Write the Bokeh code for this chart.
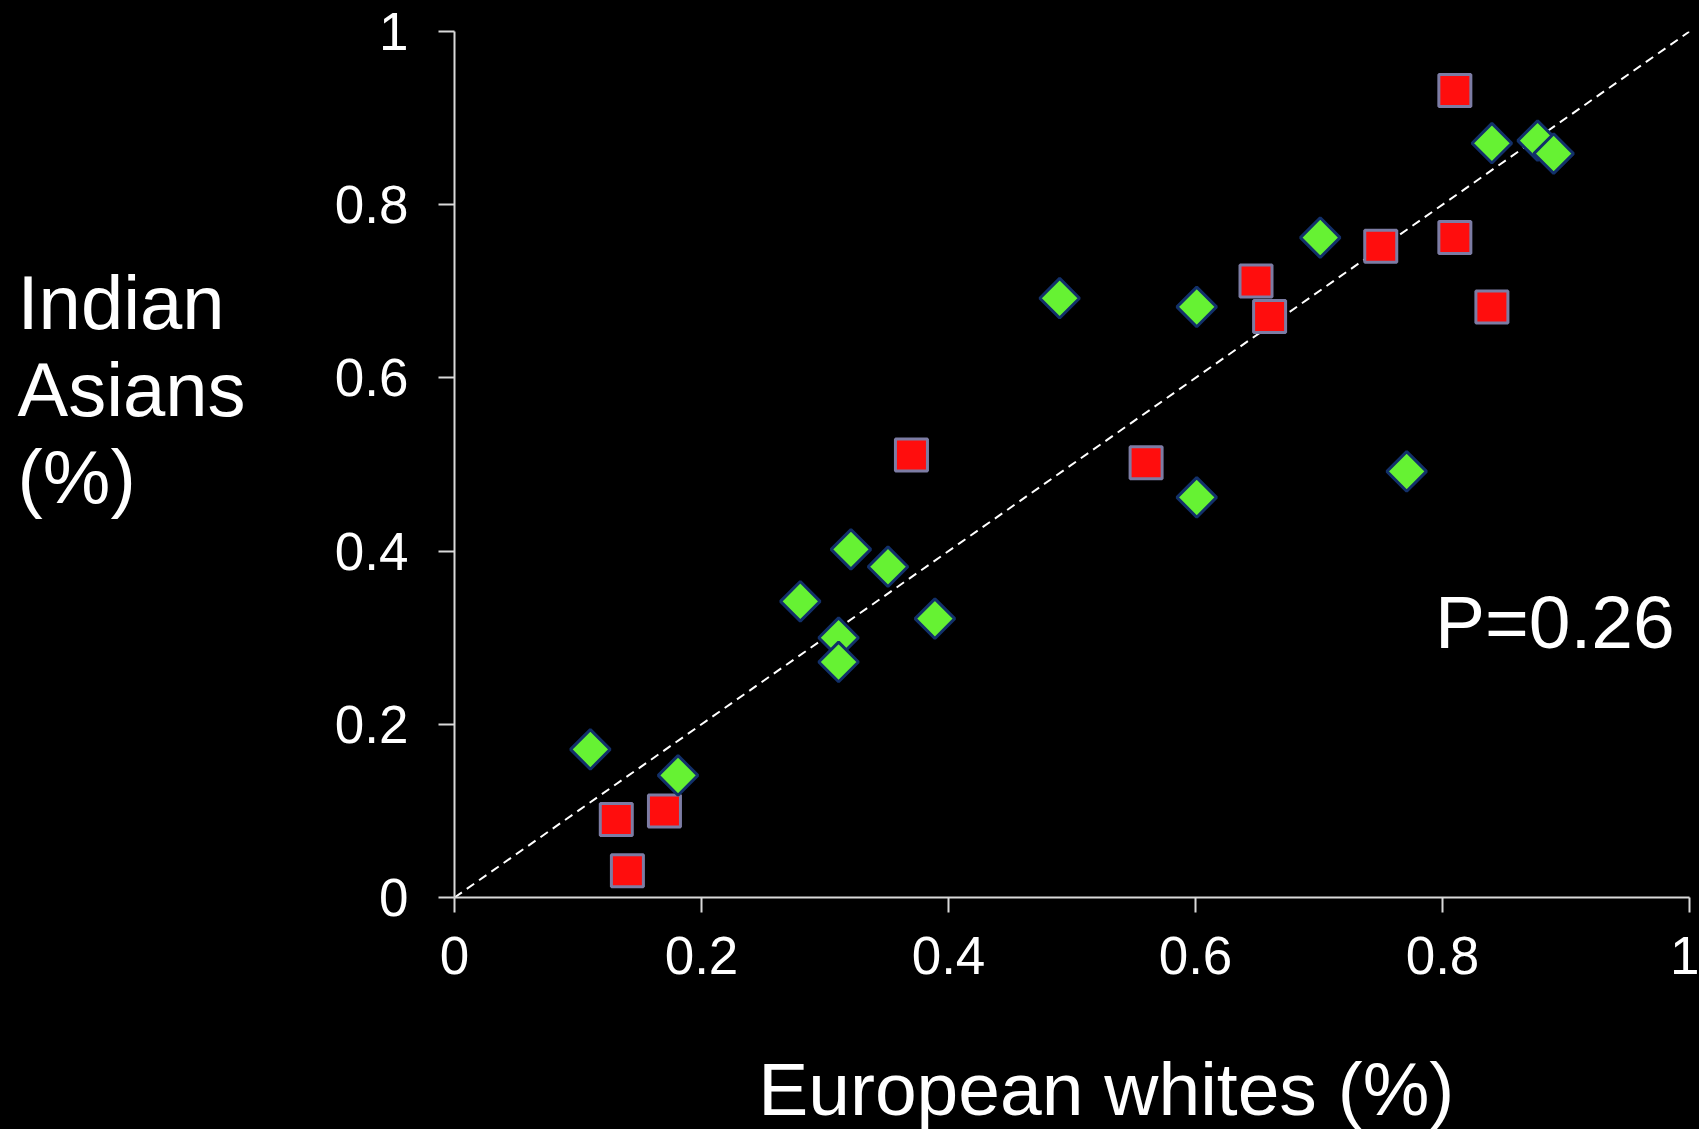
import math
from bokeh.plotting import figure
from bokeh.layouts import row, column
from bokeh.models import Range1d, FixedTicker, Label
from bokeh.embed import file_html
from bokeh.resources import INLINE

# ---- data ----
green_x = [0.110, 0.181, 0.280, 0.311, 0.311, 0.321, 0.351, 0.389, 0.490, 0.601, 0.601, 0.701, 0.771, 0.840, 0.877, 0.890]
green_y = [0.171, 0.141, 0.342, 0.300, 0.272, 0.402, 0.382, 0.322, 0.692, 0.682, 0.462, 0.762, 0.492, 0.871, 0.874, 0.859]

red_x = [0.131, 0.140, 0.170, 0.370, 0.560, 0.649, 0.660, 0.750, 0.810, 0.810, 0.840]
red_y = [0.090, 0.031, 0.100, 0.511, 0.502, 0.712, 0.671, 0.752, 0.932, 0.762, 0.682]

diag_x = [0, 1]
diag_y = [0, 1]

ticks = [0, 0.2, 0.4, 0.6, 0.8, 1]
tick_labels = ["0", "0.2", "0.4", "0.6", "0.8", "1"]

x_title = "European whites (%)"
y_title_lines = ["Indian", "Asians", "(%)"]
p_text = "P=0.26"

FONT = "Liberation Sans"
BG = "black"

LEFT_W = 300
TOTAL_W = 1699
TOTAL_H = 1129
MAIN_H = 1030


def blank(width, height):
    f = figure(width=width, height=height, output_backend="svg", toolbar_location=None,
               x_axis_type=None, y_axis_type=None,
               x_range=Range1d(0, width), y_range=Range1d(height, 0),
               min_border=0, min_border_left=0, min_border_right=0,
               min_border_top=0, min_border_bottom=0,
               background_fill_color=BG, border_fill_color=BG, outline_line_color=None)
    f.title.visible = False
    f.grid.visible = False
    return f


# ---- main plot ----
p = figure(width=TOTAL_W - LEFT_W, height=MAIN_H, output_backend="svg", toolbar_location=None,
           x_range=Range1d(0, 1), y_range=Range1d(0, 1),
           min_border_left=154, min_border_right=10, min_border_top=31, min_border_bottom=MAIN_H - 897,
           background_fill_color=BG, border_fill_color=BG, outline_line_color=None)
p.title.visible = False
p.grid.visible = False

for ax in (p.xaxis[0], p.yaxis[0]):
    ax.ticker = FixedTicker(ticks=ticks)
    ax.major_label_overrides = {t: l for t, l in zip(ticks, tick_labels)}
    ax.axis_line_color = "#d9d9d9"
    ax.axis_line_width = 2
    ax.major_tick_line_color = "#d9d9d9"
    ax.major_tick_line_width = 2
    ax.major_tick_in = 0
    ax.minor_tick_line_color = None
    ax.major_label_text_color = "white"
    ax.major_label_text_font = FONT
    ax.major_label_text_font_size = "53px"
p.xaxis[0].major_tick_out = 15
p.yaxis[0].major_tick_out = 16
p.xaxis[0].major_label_standoff = 24
p.yaxis[0].major_label_standoff = 30

# diagonal reference line
p.line(diag_x, diag_y, line_color="white", line_width=2, line_dash="9 6")

# markers
p.scatter(red_x, red_y, marker="square", size=32, fill_color="#ff0d0d",
          line_color="#7c7ca4", line_width=3)
p.scatter(green_x, green_y, marker="square", size=28, angle=math.pi / 4,
          fill_color="#66f233", line_color="#12306a", line_width=3)

p.add_layout(Label(x=0.988, y=0.318, text=p_text, text_align="right",
                   text_baseline="middle", text_color="white",
                   text_font=FONT, text_font_size="75px"))

# ---- left panel: y title ----
left = blank(LEFT_W, TOTAL_H)
for i, line in enumerate(y_title_lines):
    left.add_layout(Label(x=17, y=302 + 87 * i, text=line, text_align="left",
                          text_baseline="middle", text_color="white",
                          text_font=FONT, text_font_size="76px"))

# ---- bottom panel: x title ----
bottom = blank(TOTAL_W - LEFT_W, TOTAL_H - MAIN_H)
bottom.add_layout(Label(x=344, y=58, text=x_title, text_align="left",
                        text_baseline="middle", text_color="white",
                        text_font=FONT, text_font_size="75px"))

layout = row(left, column(p, bottom, spacing=0), spacing=0)

html = file_html(layout, INLINE)
html = html.replace("</head>",
                    "<style>html,body{background:#000;margin:0;padding:0;overflow:hidden;}</style></head>", 1)
open("out.html", "w").write(html)
